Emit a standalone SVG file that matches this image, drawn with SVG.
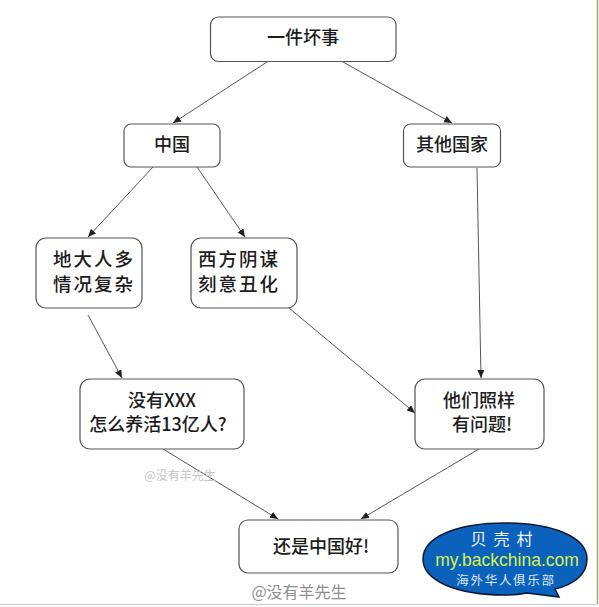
<svg xmlns="http://www.w3.org/2000/svg" width="599" height="607" viewBox="0 0 599 607">
<style>
.b{fill:#fff;stroke:#555;stroke-width:1.200}
.t{font-family:"Noto Sans CJK SC","Liberation Sans",sans-serif;font-size:18px;font-weight:500;fill:#1c1c1c;text-anchor:middle}
.l{font-size:18.500px;letter-spacing:2px}
.c{fill:none;stroke:#444;stroke-width:.9;marker-end:url(#a)}
.w{font-family:"Noto Sans CJK SC","Liberation Sans",sans-serif;text-anchor:middle}
</style>
<defs>
<marker id="a" markerUnits="userSpaceOnUse" markerWidth="9" markerHeight="8" refX="8" refY="3.500" orient="auto"><path d="M0 0L8 3.500L0 7Z" fill="#222"/></marker>
</defs>
<rect width="599" height="607" fill="#fff"/>
<path d="M597.500 0V604" stroke="#a9a66a" stroke-width="1.500" fill="none"/>
<path d="M0 604.500H597" stroke="#cfd2d2" stroke-width="1.500" fill="none"/>
<g id="connectors">
<path class="c" d="M267 62L173 123"/>
<path class="c" d="M343 62L452 123"/>
<path class="c" d="M153 167L88 237"/>
<path class="c" d="M197 167L245 237"/>
<path class="c" d="M477 168L481 378"/>
<path class="c" d="M88 315L122 378"/>
<path class="c" d="M289 308L415 413"/>
<path class="c" d="M163 449L278 519"/>
<path class="c" d="M479 449L361 519"/>
</g>
<g id="n1"><rect class="b" x="210.500" y="17" width="185.500" height="44.500" rx="8"/><text class="t" x="303" y="44">一件坏事</text></g>
<g id="n2"><rect class="b" x="124" y="124" width="96" height="43" rx="7"/><text class="t" x="172" y="151">中国</text></g>
<g id="n3"><rect class="b" x="403.500" y="124" width="97" height="43" rx="7"/><text class="t" x="452" y="151">其他国家</text></g>
<g id="n4"><rect class="b" x="36" y="238" width="106" height="70" rx="10"/><text class="t l" x="94" y="266">地大人多</text><text class="t l" x="94" y="291">情况复杂</text></g>
<g id="n5"><rect class="b" x="191" y="238" width="106" height="70" rx="10"/><text class="t l" x="239" y="266">西方阴谋</text><text class="t l" x="239" y="291">刻意丑化</text></g>
<g id="n6"><rect class="b" x="80" y="379" width="164" height="70" rx="10"/><text class="t" x="162" y="407">没有XXX</text><text class="t" x="158" y="431">怎么养活13亿人?</text></g>
<g id="n7"><rect class="b" x="415" y="379" width="129" height="70" rx="10"/><text class="t" x="479" y="407">他们照样</text><text class="t" x="482" y="431">有问题!</text></g>
<g id="n8"><rect class="b" x="239" y="520" width="159" height="53" rx="9"/><text class="t" x="321" y="553">还是中国好!</text></g>
<text x="180" y="480" font-family="Noto Sans CJK SC,Liberation Serif,serif" font-size="12" fill="#c4c4c4" text-anchor="middle">@没有羊先生</text>
<text x="299" y="598" font-family="Noto Sans CJK SC,Liberation Sans,sans-serif" font-size="16" fill="#8f8f8f" text-anchor="middle">@没有羊先生</text>
<g id="bubble">
<path d="M505 523C553 523 587 537 587 559C587 575 573 585 555 589L559 597L527 593C517 595 510 595 505 595C457 595 423 581 423 559C423 537 457 523 505 523Z" fill="#0b62bd" stroke="#101830" stroke-width="1.500"/>
<text class="w" x="505" y="545" font-size="16" letter-spacing="7" fill="#f4f4f4">贝壳村</text>
<text x="507" y="566" font-size="17.500" fill="#d8f24a" text-anchor="middle" font-family="Liberation Sans,sans-serif">my.backchina.com</text>
<text class="w" x="506" y="585" font-size="12.500" fill="#dfe8f2" letter-spacing="1.700">海外华人俱乐部</text>
</g>
</svg>
